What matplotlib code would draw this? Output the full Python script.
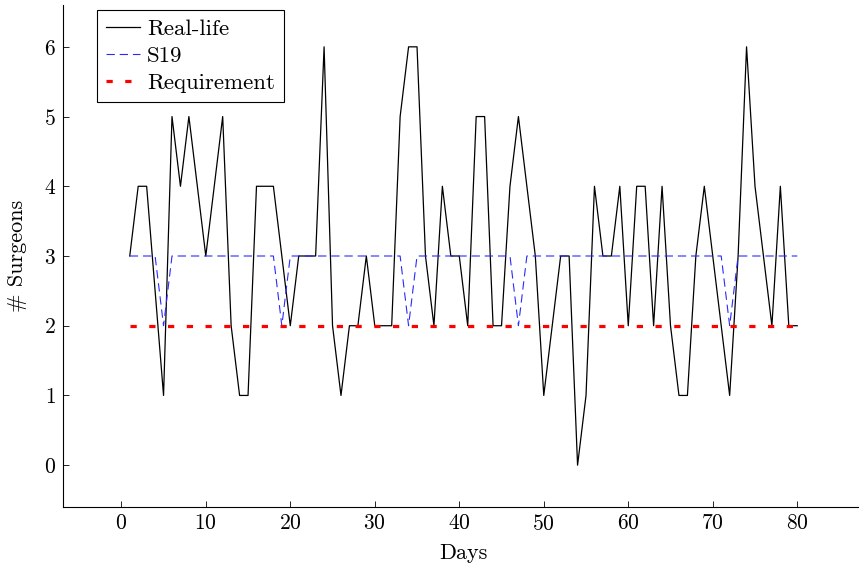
import numpy as np
import matplotlib.pyplot as plt

plt.rcParams['font.family'] = 'serif'
plt.rcParams['font.serif'] = ['cmr10']
plt.rcParams['mathtext.fontset'] = 'cm'
plt.rcParams['axes.formatter.use_mathtext'] = True
plt.rcParams['lines.scale_dashes'] = False

days = np.arange(1, 81)

real_life = [3, 4, 4, 2.5, 1, 5, 4, 5, 4, 3,
             4, 5, 2, 1, 1, 4, 4, 4, 3, 2,
             3, 3, 3, 6, 2, 1, 2, 2, 3, 2,
             2, 2, 5, 6, 6, 3, 2, 4, 3, 3,
             2, 5, 5, 2, 2, 4, 5, 4, 3, 1,
             2, 3, 3, 0, 1, 4, 3, 3, 4, 2,
             4, 4, 2, 4, 2, 1, 1, 3, 4, 3,
             2, 1, 3, 6, 4, 3, 2, 4, 2, 2]

s19 = [3, 3, 3, 3, 2, 3, 3, 3, 3, 3,
       3, 3, 3, 3, 3, 3, 3, 3, 2, 3,
       3, 3, 3, 3, 3, 3, 3, 3, 3, 3,
       3, 3, 3, 2, 3, 3, 3, 3, 3, 3,
       3, 3, 3, 3, 3, 3, 2, 3, 3, 3,
       3, 3, 3, 3, 3, 3, 3, 3, 3, 3,
       3, 3, 3, 3, 3, 3, 3, 3, 3, 3,
       3, 2, 3, 3, 3, 3, 3, 3, 3, 3]

requirement = [2] * 80

fig = plt.figure(figsize=(8.59, 5.69), dpi=100)
ax = fig.add_axes([63 / 859, 62 / 569, 801 / 859, 502 / 569])

ax.plot(days, real_life, color='black', lw=0.9, label='Real-life')
ax.plot(days, s19, color='#2a2aff', lw=0.8, dashes=(6, 3.5), label='S19')
ax.plot(days, requirement, color='#ff0000', lw=2.3, dashes=(4.5, 9), label='Requirement')

ax.set_xlim(-6.9, 87.9)
ax.set_ylim(-0.6, 6.6)
ax.set_xticks(range(0, 81, 10))
ax.set_yticks(range(0, 7))

ax.spines['top'].set_visible(False)
ax.spines['right'].set_visible(False)
ax.spines['left'].set_linewidth(0.8)
ax.spines['bottom'].set_linewidth(0.8)
ax.tick_params(direction='in', length=4, width=0.6, labelsize=15.5, pad=5)

ax.set_xlabel('Days', fontsize=16, labelpad=7)
ax.set_ylabel('# Surgeons', fontsize=16, labelpad=12)

leg = ax.legend(loc='upper left', bbox_to_anchor=(0.042, 0.99), fontsize=16.5,
                frameon=True, fancybox=False, framealpha=1, edgecolor='black',
                handlelength=1.5, handletextpad=0.3, borderpad=0.4,
                labelspacing=0.3, borderaxespad=0)
leg.get_frame().set_linewidth(0.8)

fig.savefig('out.png', dpi=100)
